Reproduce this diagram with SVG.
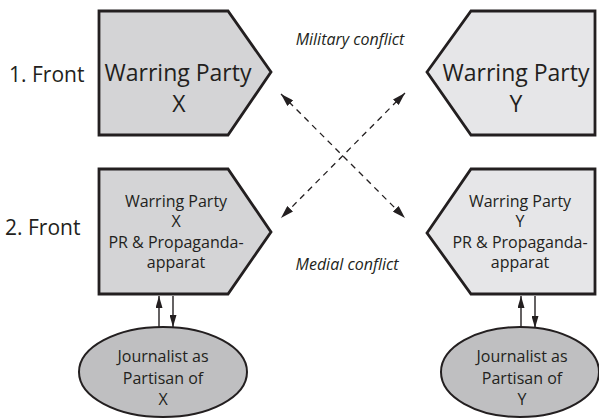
<svg xmlns="http://www.w3.org/2000/svg" width="599" height="419" viewBox="0 0 599 419">
<style>
.bx{fill:#d4d4d6;stroke:#231f20;stroke-width:2.8;stroke-linejoin:miter}
.by{fill:#e6e6e8;stroke:#231f20;stroke-width:2.8;stroke-linejoin:miter}
.el{fill:#bfbfc1;stroke:#231f20;stroke-width:2}
text{font-family:"Open Sans","Noto Sans","DejaVu Sans",sans-serif;fill:#231f20;text-anchor:middle}
.big{font-size:23px}
.mid{font-size:16px}
.lab{font-size:21px;text-anchor:start}
.it{font-size:16px;font-style:italic}
.dash{fill:none;stroke:#231f20;stroke-width:1.3;stroke-dasharray:6 5}
.sol{fill:none;stroke:#231f20;stroke-width:1.4}
</style>
<defs>
<marker id="ad" viewBox="0 0 13 8" refX="13" refY="4" markerWidth="13" markerHeight="8" orient="auto-start-reverse" markerUnits="userSpaceOnUse"><path d="M0,0 L13,4 L0,8 z" fill="#231f20"/></marker>
<marker id="as" viewBox="0 0 12 7" refX="12" refY="3.5" markerWidth="12" markerHeight="7" orient="auto" markerUnits="userSpaceOnUse"><path d="M0,0 L12,3.5 L0,7 z" fill="#231f20"/></marker>
</defs>
<text class="lab" x="9" y="82">1. Front</text>
<text class="lab" x="5" y="235">2. Front</text>
<g id="partyX">
<polygon class="bx" points="99,11 228,11 271,72 228,135 99,135"/>
<text class="big" x="178" y="81">Warring Party</text>
<text class="big" x="179" y="112">X</text>
</g>
<g id="partyY">
<polygon class="by" points="427,72 471,11 595,11 595,135 471,135"/>
<text class="big" x="516" y="81">Warring Party</text>
<text class="big" x="516" y="112">Y</text>
</g>
<g id="prX">
<polygon class="bx" points="99,169 228,169 271,232 228,294 99,294"/>
<text class="mid" x="176" y="207">Warring Party</text>
<text class="mid" x="176" y="227">X</text>
<text class="mid" x="176" y="248">PR &amp; Propaganda-</text>
<text class="mid" x="176" y="268">apparat</text>
</g>
<g id="prY">
<polygon class="by" points="427,233 471,169 595,169 595,294 471,294"/>
<text class="mid" x="520" y="207">Warring Party</text>
<text class="mid" x="520" y="227">Y</text>
<text class="mid" x="520" y="248">PR &amp; Propaganda-</text>
<text class="mid" x="520" y="268">apparat</text>
</g>
<g id="journX">
<ellipse class="el" cx="163" cy="372" rx="84" ry="45"/>
<text class="mid" x="163" y="362">Journalist as</text>
<text class="mid" x="163" y="384">Partisan of</text>
<text class="mid" x="163" y="405">X</text>
</g>
<g id="journY">
<ellipse class="el" cx="520" cy="372" rx="79" ry="45"/>
<text class="mid" x="522" y="362">Journalist as</text>
<text class="mid" x="522" y="384">Partisan of</text>
<text class="mid" x="522" y="405">Y</text>
</g>
<text class="it" x="350" y="45">Military conflict</text>
<text class="it" x="347" y="270">Medial conflict</text>
<g id="connectors">
<path class="dash" d="M281,94 L405,218" marker-start="url(#ad)" marker-end="url(#ad)"/>
<path class="dash" d="M405,93 L281,218" marker-start="url(#ad)" marker-end="url(#ad)"/>
<path class="sol" d="M159,327 L159,296" marker-end="url(#as)"/>
<path class="sol" d="M173,296 L173,327" marker-end="url(#as)"/>
<path class="sol" d="M521,327 L521,296" marker-end="url(#as)"/>
<path class="sol" d="M535,296 L535,328" marker-end="url(#as)"/>
</g>
</svg>
